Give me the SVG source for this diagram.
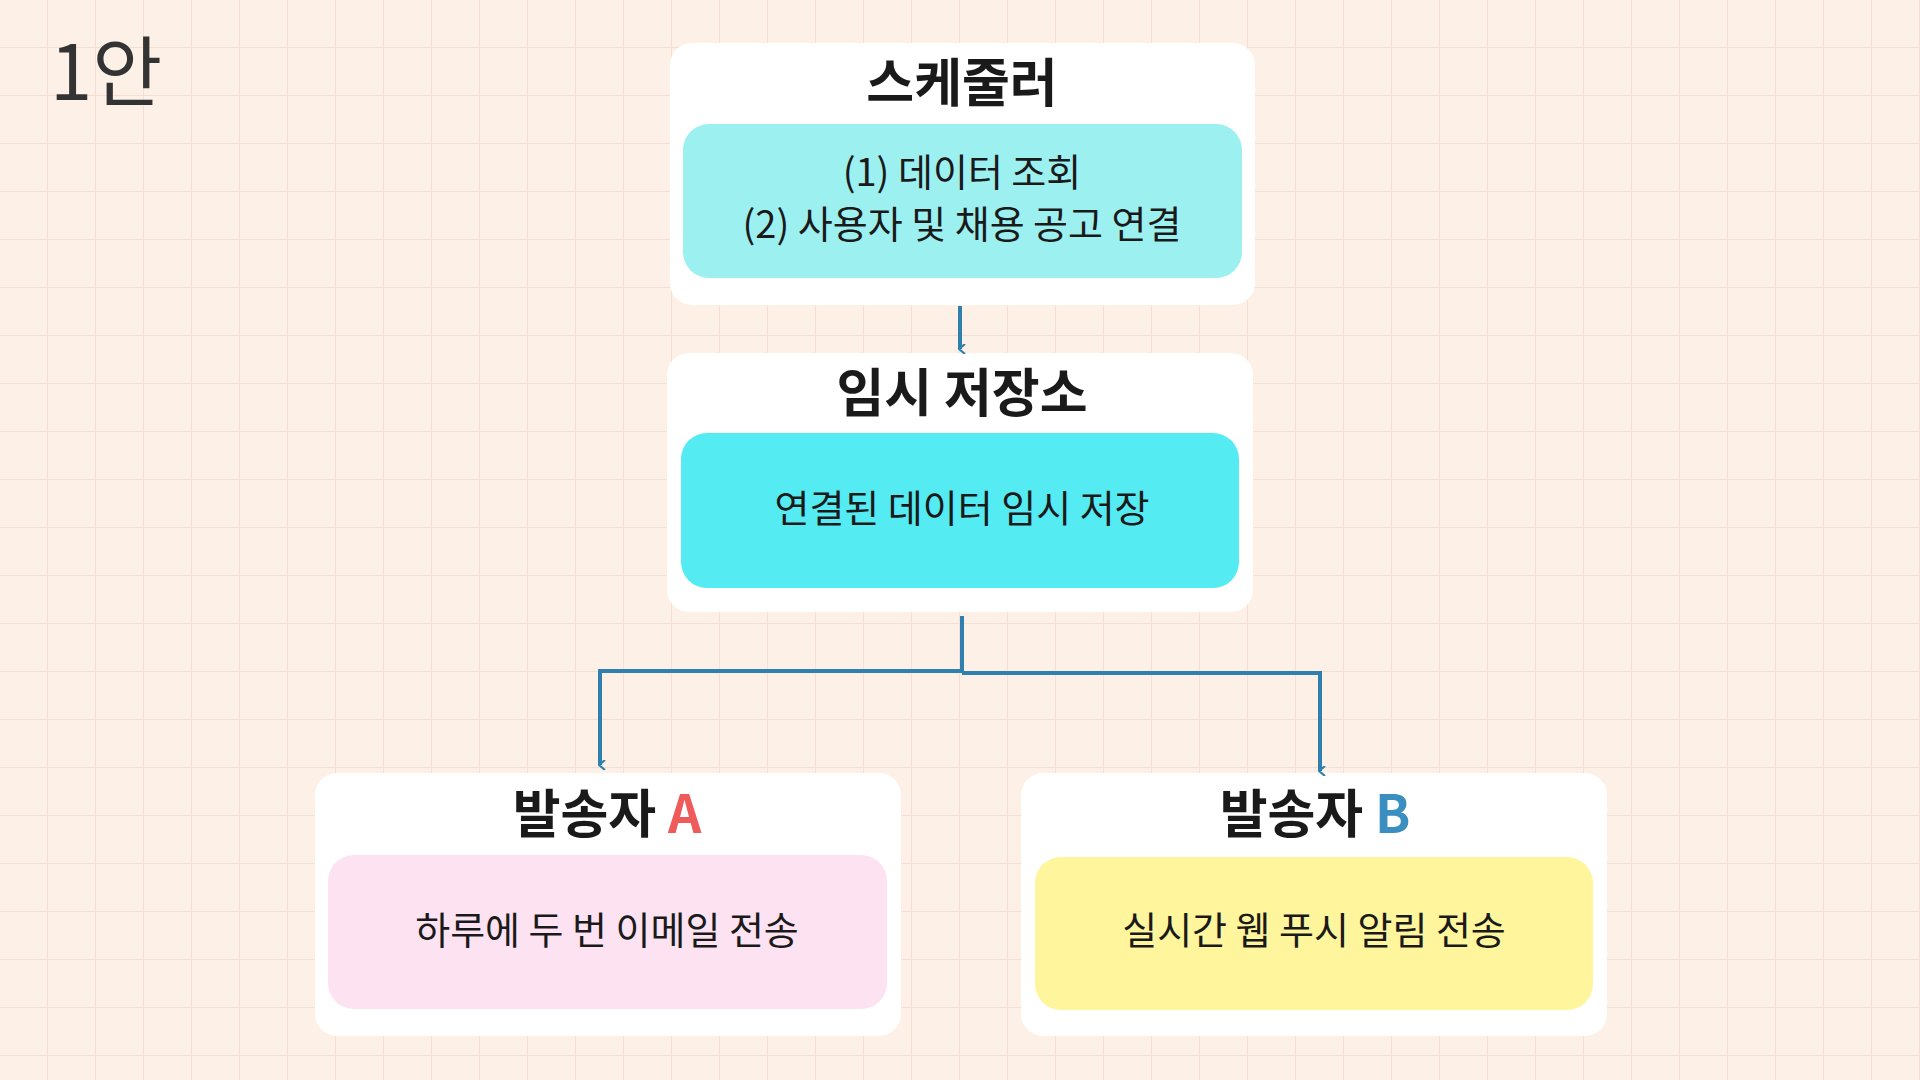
<svg xmlns="http://www.w3.org/2000/svg" width="1920" height="1080" viewBox="0 0 1920 1080">
<defs>
<pattern id="grid" width="48" height="48" patternUnits="userSpaceOnUse"><path d="M48 0V48H0" fill="none" stroke="#f4dfd2" stroke-width="2"/></pattern>
<marker id="ah" viewBox="0 0 10 10" refX="5" refY="8" markerWidth="10" markerHeight="10" markerUnits="userSpaceOnUse" orient="auto-start-reverse"><path d="M0,3 L5,9 L10,3" fill="none" stroke="#2f80ae" stroke-width="2.2"/></marker>
<style>
text{font-family:"Noto Sans CJK KR","Noto Sans",sans-serif;text-anchor:middle;fill:#1a1a1a}
.outer{fill:#fff}
.h{font-size:52px;font-weight:700}
.t{font-size:38px}
.c{fill:none;stroke:#2f80ae;stroke-width:4}
</style>
</defs>
<rect width="1920" height="1080" fill="#fdf1e7"/>
<rect width="1920" height="1080" fill="url(#grid)"/>
<text x="50" y="100" style="text-anchor:start;font-size:76px;fill:#333">1안</text>
<g id="scheduler">
<rect class="outer" x="670" y="43" width="585" height="262" rx="22"/>
<rect x="683" y="124" width="559" height="154" rx="26" fill="#9cf0f0"/>
<text class="h" x="962" y="102">스케줄러</text>
<text class="t" x="962" y="186">(1) 데이터 조회</text>
<text class="t" x="962" y="238">(2) 사용자 및 채용 공고 연결</text>
</g>
<g id="storage">
<rect class="outer" x="667" y="353" width="586" height="259" rx="22"/>
<rect x="681" y="433" width="558" height="155" rx="26" fill="#55ebf2"/>
<text class="h" x="962" y="412">임시 저장소</text>
<text class="t" x="962" y="522">연결된 데이터 임시 저장</text>
</g>
<g id="senderA">
<rect class="outer" x="315" y="773" width="586" height="263" rx="22"/>
<rect x="328" y="855" width="559" height="154" rx="26" fill="#fde2f2"/>
<text class="h" x="607" y="833">발송자 <tspan fill="#ef5b5b">A</tspan></text>
<text class="t" x="607" y="944">하루에 두 번 이메일 전송</text>
</g>
<g id="senderB">
<rect class="outer" x="1021" y="773" width="586" height="263" rx="22"/>
<rect x="1035" y="857" width="558" height="153" rx="26" fill="#fff59c"/>
<text class="h" x="1315" y="833">발송자 <tspan fill="#3a8fc0">B</tspan></text>
<text class="t" x="1314" y="944">실시간 웹 푸시 알림 전송</text>
</g>
<g id="connectors">
<path class="c" d="M960 306V349" marker-end="url(#ah)"/>
<path class="c" d="M962 616V671"/>
<path class="c" d="M962 671H600V765" marker-end="url(#ah)"/>
<path class="c" d="M962 673H1320V771" marker-end="url(#ah)"/>
</g>
</svg>
